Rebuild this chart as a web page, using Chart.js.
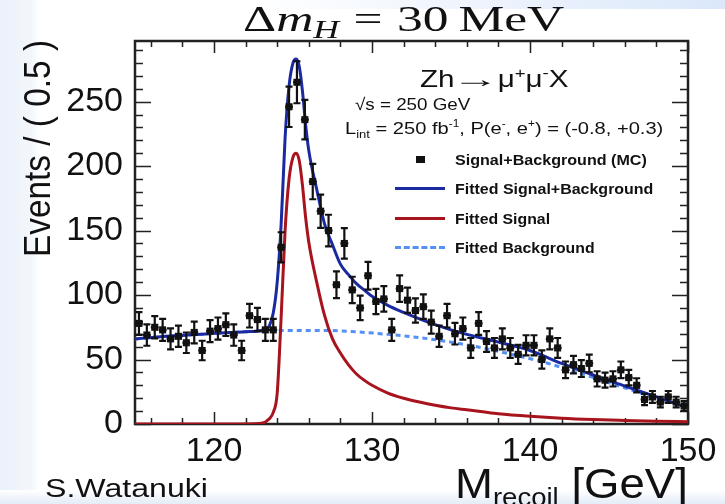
<!DOCTYPE html>
<html>
<head>
<meta charset="utf-8">
<script src="https://cdn.jsdelivr.net/npm/chart.js@4.4.1/dist/chart.umd.min.js"></script>
<style>
  html, body { margin: 0; padding: 0; background: #fff; }
  #wrap { position: relative; width: 725px; height: 504px; overflow: hidden;
          font-family: "Liberation Sans", Arial, Helvetica, sans-serif; color: #111; }
  .bg-left { position: absolute; left: 0; top: 0; width: 40px; height: 504px;
             background: linear-gradient(to right, #eaf1fa, #f3f7fc 80%, #fff); }
  .bg-bottom { position: absolute; left: 0; top: 490px; width: 725px; height: 14px;
               background: linear-gradient(to bottom, #fff, #e3ecf8); }
  .bg-top { position: absolute; left: 250px; top: 0; width: 475px; height: 9px;
            background: linear-gradient(to right, #fff, #dbe8fa); }
  canvas { position: absolute; left: 0; top: 0; }
  .txt { position: absolute; white-space: nowrap; line-height: 1; transform-origin: left top; }
  .sym { position: absolute; }
</style>
</head>
<body>
<div id="wrap">
  <div class="bg-left"></div>
  <div class="bg-top"></div>
  <div class="bg-bottom"></div>
  <canvas id="chart-recoil" width="725" height="504"></canvas>

  <div class="txt" data-w="322" style="left:243px; top:1px; font-family:'Liberation Serif','DejaVu Serif',serif; font-size:36px;">Δ<i>m</i><sub style="font-size:25px; vertical-align:-7px;"><i>H</i></sub><span style="margin:0 10px;">=</span>30<span style="margin-left:7px;">MeV</span></div>

  <div class="txt" data-w="217" data-rot="1" style="left:20px; top:257px; font-size:36px;">Events / ( 0.5 )</div>

  <div class="txt" data-w="233" style="left:455px; top:462px; font-size:43px;">M<span style="font-size:26px; vertical-align:-8px;">recoil</span> [GeV]</div>
  <div class="txt" data-w="163" style="left:45px; top:475px; font-size:26px;">S.Watanuki</div>

  <div class="txt" data-w="148" style="left:420px; top:65px; font-size:24px;">Zh<span style="display:inline-block; transform:scaleX(1.6); margin:0 6px 0 5px;">→</span>μ<sup style="font-size:15px; vertical-align:9px;">+</sup>μ<sup style="font-size:15px; vertical-align:9px;">-</sup>X</div>
  <div class="txt" data-w="115" style="left:355px; top:96px; font-size:17px;">√s = 250 GeV</div>
  <div class="txt" data-w="318" style="left:345px; top:119px; font-size:17px;">L<sub style="font-size:11px; vertical-align:-4px;">int</sub> = 250 fb<sup style="font-size:10px; vertical-align:7px;">-1</sup>, P(e<sup style="font-size:10px; vertical-align:7px;">-</sup>, e<sup style="font-size:10px; vertical-align:7px;">+</sup>) = (-0.8, +0.3)</div>

  <div class="sym" style="left:416px; top:156px; width:9px; height:7px; background:#111;"></div>
  <div class="txt" data-w="192" style="left:455px; top:152px; font-size:15px; font-weight:bold;">Signal+Background (MC)</div>
  <div class="sym" style="left:395px; top:187px; width:50px; height:0; border-top:3px solid #1a2aa0;"></div>
  <div class="txt" data-w="198" style="left:455px; top:181px; font-size:15px; font-weight:bold;">Fitted Signal+Background</div>
  <div class="sym" style="left:395px; top:217px; width:50px; height:0; border-top:3px solid #a8141e;"></div>
  <div class="txt" data-w="95" style="left:455px; top:211px; font-size:15px; font-weight:bold;">Fitted Signal</div>
  <div class="sym" style="left:395px; top:246px; width:50px; height:0; border-top:3px dashed #5590f5;"></div>
  <div class="txt" data-w="140" style="left:455px; top:240px; font-size:15px; font-weight:bold;">Fitted Background</div>
</div>

<script>
// histogram: 0.5 GeV bins from 115 to 150 GeV
const binStart = 115;
const binWidth = 0.5;
const eventCounts = [
  78, 69, 75, 73, 66, 68, 63, 71, 57, 72, 74, 77, 69, 57, 84, 81, 73, 73,
  137, 246, 265, 236, 188, 165, 150, 108, 140, 104, 90, 115, 95, 97, 73, 105, 96, 88,
  91, 79, 68, 84, 70, 74, 59, 78, 64, 59, 66, 59, 54, 61,
  61, 50, 66, 59, 42, 46, 43, 47, 35, 34, 35, 42, 36, 30, 19, 21, 17, 21, 17, 14
];

// fitted curves
const sigBkgMass = [115, 117, 119, 121, 122, 123, 123.25, 123.5, 123.75, 124, 124.25, 124.5, 124.75, 125, 125.2,
  125.4, 125.6, 125.8, 126, 126.5, 127, 127.5, 128, 128.5, 129, 129.5, 130, 131, 132, 133, 134, 135, 136, 137, 138,
  140, 142, 144, 146, 148, 150];
const sigBkgValues = [66, 68, 69.5, 71, 71.5, 72.5, 73.5, 76, 86, 110, 155, 222, 262, 280, 283,
  277, 258, 232, 212, 182, 155, 139, 124, 116, 109, 104, 99, 92, 86.5, 81.5, 77, 73, 69.5, 66.5, 63.5,
  57, 47, 38, 29.5, 21, 12.5];

const sigMass = [115, 122, 123, 123.5, 123.75, 124, 124.25, 124.5, 124.75, 125, 125.2, 125.4, 125.6, 125.8, 126,
  126.5, 127, 127.5, 128, 128.5, 129, 129.5, 130, 131, 132, 133, 134, 135, 136, 137, 138, 140, 142, 144, 146, 148, 150];
const sigValues = [0, 0, 0.5, 4, 9, 24, 83, 150, 190, 207, 210, 204, 185, 160, 141,
  110, 84, 66, 55, 46, 39, 34, 30, 24, 20, 17, 14.5, 12.5, 11, 9.5, 8, 6, 4.5, 3.5, 2.8, 2.2, 1.8];

const bkgMass = [115, 117, 119, 121, 123, 125, 127, 129, 131, 133, 135, 137, 139, 141, 143, 145, 147, 149, 150];
const bkgValues = [66, 68, 69.5, 71, 72, 72.5, 72.5, 71.5, 69.5, 67, 63.5, 59, 53.5, 47.5, 40, 32, 24, 16, 12.5];

// axes
const xTickValues = [116, 118, 120, 122, 124, 126, 128, 130, 132, 134, 136, 138, 140, 142, 144, 146, 148, 150];
const xTickLabels = [120, 130, 140, 150];
const yTickValues = [0, 10, 20, 30, 40, 50, 60, 70, 80, 90, 100, 110, 120, 130, 140, 150, 160, 170, 180, 190,
  200, 210, 220, 230, 240, 250, 260, 270, 280, 290];
const yTickLabels = [0, 50, 100, 150, 200, 250];

const toPoints = (xs, ys) => xs.map((x, i) => ({ x: x, y: ys[i] }));
const mcPoints = eventCounts.map((n, i) => ({ x: binStart + binWidth * (i + 0.5), y: n }));

// stretch the overlay texts to the widths they have in the slide
document.querySelectorAll('.txt[data-w]').forEach(el => {
  const k = Number(el.dataset.w) / el.offsetWidth;
  el.style.transform = (el.dataset.rot ? 'rotate(-90deg) ' : '') + 'scaleX(' + k.toFixed(3) + ')';
});

// ROOT-like frame with inward ticks, plus error bars under the MC markers
const framePlugin = {
  id: 'frame',
  beforeDatasetsDraw(chart) {
    const { ctx, chartArea: a, scales: { x, y } } = chart;
    ctx.save();
    ctx.strokeStyle = '#222';
    ctx.lineWidth = 1.5;
    ctx.beginPath();
    x.ticks.forEach(t => {
      const px = Math.round(x.getPixelForValue(t.value)) + 0.5;
      const len = xTickLabels.includes(t.value) ? 12 : 6;
      ctx.moveTo(px, a.bottom); ctx.lineTo(px, a.bottom - len);
      ctx.moveTo(px, a.top); ctx.lineTo(px, a.top + len);
    });
    y.ticks.forEach(t => {
      const py = Math.round(y.getPixelForValue(t.value)) + 0.5;
      const len = yTickLabels.includes(t.value) ? 16 : 8;
      ctx.moveTo(a.left, py); ctx.lineTo(a.left + len, py);
      ctx.moveTo(a.right, py); ctx.lineTo(a.right - len, py);
    });
    ctx.stroke();
    ctx.lineWidth = 2.5;
    ctx.strokeRect(a.left, a.top, a.right - a.left, a.bottom - a.top);
    ctx.restore();
  },
  beforeDatasetDraw(chart, args) {
    if (args.index !== 0) return;
    const { ctx, scales: { x, y } } = chart;
    ctx.save();
    ctx.strokeStyle = '#111';
    ctx.lineWidth = 2.2;
    ctx.beginPath();
    mcPoints.forEach(p => {
      const err = Math.sqrt(p.y);
      const px = x.getPixelForValue(p.x);
      const py = y.getPixelForValue(p.y);
      const top = y.getPixelForValue(p.y + err);
      const bot = y.getPixelForValue(p.y - err);
      ctx.moveTo(px, top); ctx.lineTo(px, bot);
      ctx.moveTo(px - 3.5, top); ctx.lineTo(px + 3.5, top);
      ctx.moveTo(px - 3.5, bot); ctx.lineTo(px + 3.5, bot);
      ctx.moveTo(x.getPixelForValue(p.x - binWidth / 2), py);
      ctx.lineTo(x.getPixelForValue(p.x + binWidth / 2), py);
    });
    ctx.stroke();
    ctx.restore();
  }
};

const ctx = document.getElementById('chart-recoil');
new Chart(ctx, {
  type: 'scatter',
  data: {
    datasets: [
      {
        label: 'Signal+Background (MC)',
        data: mcPoints,
        pointStyle: 'rect',
        pointRadius: 5,
        pointBackgroundColor: '#111',
        pointBorderWidth: 0
      },
      {
        label: 'Fitted Signal+Background',
        data: toPoints(sigBkgMass, sigBkgValues),
        showLine: true,
        borderColor: '#1a2aa0',
        borderWidth: 3,
        pointRadius: 0,
        cubicInterpolationMode: 'monotone'
      },
      {
        label: 'Fitted Signal',
        data: toPoints(sigMass, sigValues),
        showLine: true,
        borderColor: '#a8141e',
        borderWidth: 3,
        pointRadius: 0,
        cubicInterpolationMode: 'monotone'
      },
      {
        label: 'Fitted Background',
        data: toPoints(bkgMass, bkgValues),
        showLine: true,
        borderColor: '#5590f5',
        borderWidth: 3,
        borderDash: [5, 4],
        pointRadius: 0,
        cubicInterpolationMode: 'monotone'
      }
    ]
  },
  options: {
    responsive: false,
    animation: false,
    layout: { padding: { left: 0, right: 37, top: 41, bottom: 0 } },
    plugins: {
      legend: { display: false },
      tooltip: { enabled: false }
    },
    scales: {
      x: {
        type: 'linear',
        min: 115,
        max: 150,
        afterBuildTicks: (s) => { s.ticks = xTickValues.map(v => ({ value: v })); },
        afterFit: (s) => { s.height = 80; },
        grid: { display: false, drawTicks: false },
        border: { display: false },
        ticks: {
          autoSkip: false,
          maxRotation: 0,
          padding: 7,
          color: '#111',
          font: { family: 'Liberation Sans', size: 34 },
          callback: (v) => xTickLabels.includes(v) ? String(v) : ''
        }
      },
      y: {
        type: 'linear',
        min: 0,
        max: 297,
        afterBuildTicks: (s) => { s.ticks = yTickValues.map(v => ({ value: v })); },
        afterFit: (s) => { s.width = 135; },
        grid: { display: false, drawTicks: false },
        border: { display: false },
        ticks: {
          autoSkip: false,
          padding: 12,
          color: '#111',
          font: { family: 'Liberation Sans', size: 34 },
          callback: (v) => yTickLabels.includes(v) ? String(v) : ''
        }
      }
    }
  },
  plugins: [framePlugin]
});
</script>
</body>
</html>
